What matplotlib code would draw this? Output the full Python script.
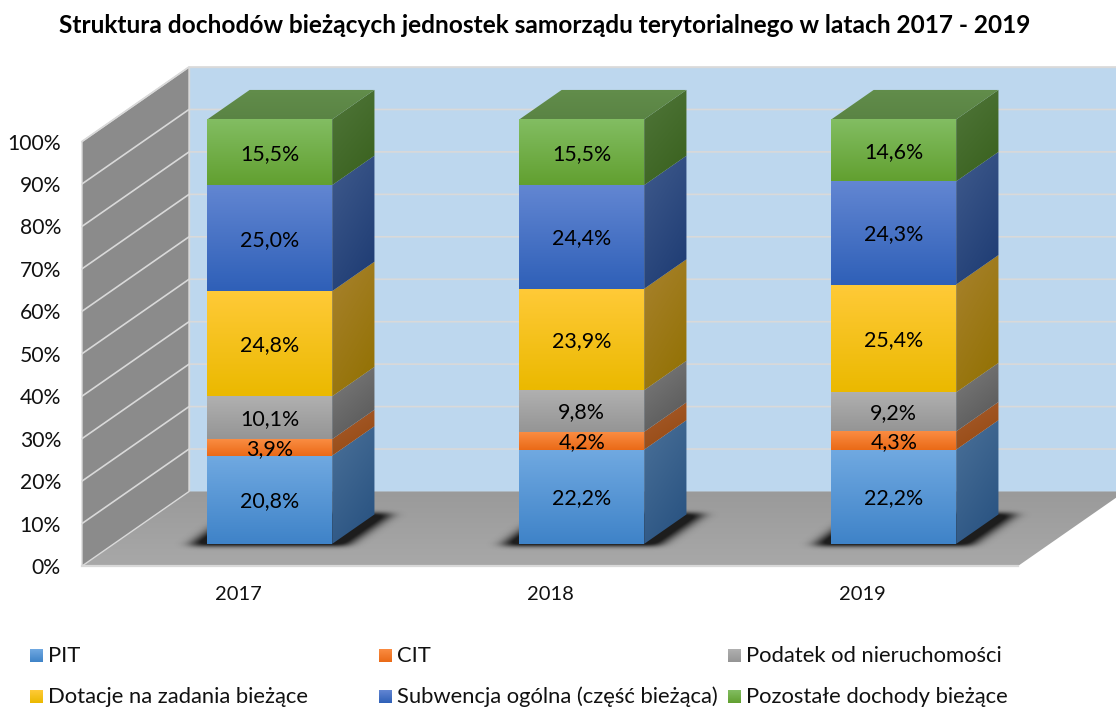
import matplotlib
matplotlib.use("Agg")
import matplotlib.pyplot as plt
from matplotlib.patches import Polygon
from matplotlib.path import Path
import numpy as np

# ── data ─────────────────────────────────────────────────────────────────────
years = ["2017", "2018", "2019"]
series_names = ["PIT", "CIT", "Podatek od nieruchomości", "Dotacje na zadania bieżące",
                "Subwencja ogólna (część bieżąca)", "Pozostałe dochody bieżące"]
pit = [20.8, 22.2, 22.2]
cit = [3.9, 4.2, 4.3]
podatek = [10.1, 9.8, 9.2]
dotacje = [24.8, 23.9, 25.4]
subwencja = [25.0, 24.4, 24.3]
pozostale = [15.5, 15.5, 14.6]
ticks = list(range(0, 101, 10))
title = "Struktura dochodów bieżących jednostek samorządu terytorialnego w latach 2017 - 2019"

# ── colours: (front top, front bottom, side light, side dark) ───────────────
_STYLES = [
    ("#70a9e1", "#3f83c8", "#4a7098", "#26507f"),
    ("#fa8c42", "#ea6a17", "#a85c2e", "#93480f"),
    ("#b0b0b0", "#959595", "#7c7c7c", "#555555"),
    ("#ffca38", "#ebb900", "#a8822e", "#917000"),
    ("#6286d2", "#2f60b8", "#3f5a8c", "#1c3a72"),
    ("#82bd62", "#62a030", "#50763a", "#38601c"),
]
_WALL = "#8b8b8b"
_BACK = "#bdd7ee"
_GRID = "#d9d9d9"
_FONT = ["Lato", "DejaVu Sans"]

# ── pseudo-3D projection, in picture pixels ─────────────────────────────────
X0, X1 = 82.0, 1018.0
Y0, PX_PER_PCT = 566.0, 4.245
DEPTH_X, DEPTH_Y = 107.0, -74.5
BAR_WIDTH = 0.40
BAR_DEPTH = (0.297, 0.692)


def project(cat, pct, depth=0.0):
    """cat = category position (0 = left wall), pct = value axis, depth 0..1 front to back."""
    slot = (X1 - X0) / len(years)
    return (X0 + cat * slot + depth * DEPTH_X, Y0 - pct * PX_PER_PCT + depth * DEPTH_Y)


def _hex(c):
    return np.array(matplotlib.colors.to_rgb(c))


def _grad_poly(ax, pts, c_a, c_b, mode="v", z=2):
    """Fill polygon pts with a gradient from c_a to c_b."""
    pts = np.array(pts)
    x0, y0 = pts.min(axis=0)
    x1, y1 = pts.max(axis=0)
    v, u = np.mgrid[0:1:48j, 0:1:48j]
    t = v if mode == "v" else 0.35 * u + 0.65 * v
    img = _hex(c_a) + (_hex(c_b) - _hex(c_a)) * t[..., None]
    im = ax.imshow(img, extent=(x0, x1, y1, y0), origin="upper", aspect="auto",
                   interpolation="bilinear", zorder=z)
    clip = Polygon(pts, closed=True, transform=ax.transData)
    im.set_clip_path(clip)


def _shadow(ax, foot, z=1.5):
    """Soft dark blob below a bar footprint, spread a little past it."""
    foot = np.array(foot) + np.array([[-18, 2], [14, 2], [18, -1], [-16, -1]])
    x0, y0 = foot.min(axis=0) - 30
    x1, y1 = foot.max(axis=0) + 30
    nx, ny = int(x1 - x0), int(y1 - y0)
    gx, gy = np.meshgrid(np.linspace(x0, x1, nx), np.linspace(y0, y1, ny))
    mask = Path(foot).contains_points(np.c_[gx.ravel(), gy.ravel()]).reshape(ny, nx).astype(float)
    for axis, n in ((0, 15), (1, 45)):
        kern = np.exp(-np.linspace(-2.2, 2.2, n) ** 2)
        kern /= kern.sum()
        mask = np.apply_along_axis(lambda r: np.convolve(r, kern, mode="same"), axis, mask)
    img = np.zeros((ny, nx, 4))
    img[..., 3] = np.clip(mask * 1.1, 0, 0.82)
    ax.imshow(img, extent=(x0, x1, y1, y0), origin="upper", aspect="auto",
              interpolation="bilinear", zorder=z)


# ── figure ───────────────────────────────────────────────────────────────────
fig = plt.figure(figsize=(11.16, 7.07), dpi=100, facecolor="white")
ax = fig.add_axes([0, 0, 1, 1])
ax.axis("off")

n_cat = len(years)
# walls and floor
ax.add_patch(Polygon([project(0, 0, 1), project(n_cat, 0, 1), project(n_cat, 100, 1), project(0, 100, 1)],
                     facecolor=_BACK, edgecolor=_GRID, linewidth=1, zorder=1))
_grad_poly(ax, [project(0, 0, 0), project(n_cat, 0, 0), project(n_cat, 0, 1), project(0, 0, 1)],
           "#9a9a9a", "#a8a8a8", z=1.1)
ax.add_patch(Polygon([project(0, 0, 0), project(0, 0, 1), project(0, 100, 1), project(0, 100, 0)],
                     facecolor=_WALL, edgecolor=_GRID, linewidth=1, zorder=1.2))
ax.plot(*zip(project(0, 0, 0), project(n_cat, 0, 0)), color=_GRID, lw=1.6, zorder=1.3)

for t in ticks:
    if t > 0:
        pts = [project(0, t, 0), project(0, t, 1), project(n_cat, t, 1)]
        ax.plot(*zip(*pts), color=_GRID, lw=1.2, zorder=1.3)
    xt, yt = project(0, t, 0)
    ax.text(61, yt + 2, f"{t}%", ha="right", va="center", fontsize=15.2, color="#111111", family=_FONT)

# stacked bars
stack = np.array([pit, cit, podatek, dotacje, subwencja, pozostale], dtype=float)
totals = stack.sum(axis=0)
for i, year in enumerate(years):
    left, right = i + 0.5 - BAR_WIDTH / 2, i + 0.5 + BAR_WIDTH / 2
    d0, d1 = BAR_DEPTH
    _shadow(ax, [project(left, 0, d0), project(right, 0, d0), project(right, 0, d1), project(left, 0, d1)])
    base = 0.0
    for k, vals in enumerate(stack):
        top = base + vals[i] / totals[i] * 100
        c_top, c_bot, s_top, s_bot = _STYLES[k]
        z = 3 + k * 0.01
        _grad_poly(ax, [project(right, top, d0), project(right, top, d1),
                        project(right, base, d1), project(right, base, d0)],
                   s_top, s_bot, mode="d", z=z)
        _grad_poly(ax, [project(left, top, d0), project(right, top, d0),
                        project(right, base, d0), project(left, base, d0)],
                   c_top, c_bot, z=z + 0.005)
        xm = (project(left, 0, d0)[0] + project(right, 0, d0)[0]) / 2
        ym = project(0, (base + top) / 2, d0)[1]
        ax.text(xm, ym + 1.5, f"{vals[i]:.1f}%".replace(".", ","), ha="center", va="center",
                fontsize=15.4, color="black", family=_FONT, zorder=6)
        base = top
    # roof of the column
    _grad_poly(ax, [project(left, base, d0), project(right, base, d0),
                    project(right, base, d1), project(left, base, d1)],
               "#628d4b", "#5a8444", z=3.5)
    xc = project(i + 0.5, 0, 0)[0]
    ax.text(xc, 594.5, year, ha="center", va="center", fontsize=14.5, color="#111111", family=_FONT)

# legend
legend_x = [30, 379, 728]
legend_y = [655.5, 696.5]
for k, name in enumerate(series_names):
    lx, ly = legend_x[k % 3], legend_y[k // 3]
    c_top, c_bot = _STYLES[k][:2]
    _grad_poly(ax, [(lx, ly - 6.5), (lx + 13, ly - 6.5), (lx + 13, ly + 6.5), (lx, ly + 6.5)],
               c_top, c_bot, z=2)
    ax.text(lx + 18, ly + 0.5, name, ha="left", va="center", fontsize=15.8, color="#111111", family=_FONT)

ax.text(545, 25.5, title, ha="center", va="center", fontsize=17.6, fontweight="bold",
        color="black", family=_FONT)

ax.set_xlim(0, 1116)
ax.set_ylim(707, 0)
fig.savefig("out.png", dpi=100, facecolor="white")
